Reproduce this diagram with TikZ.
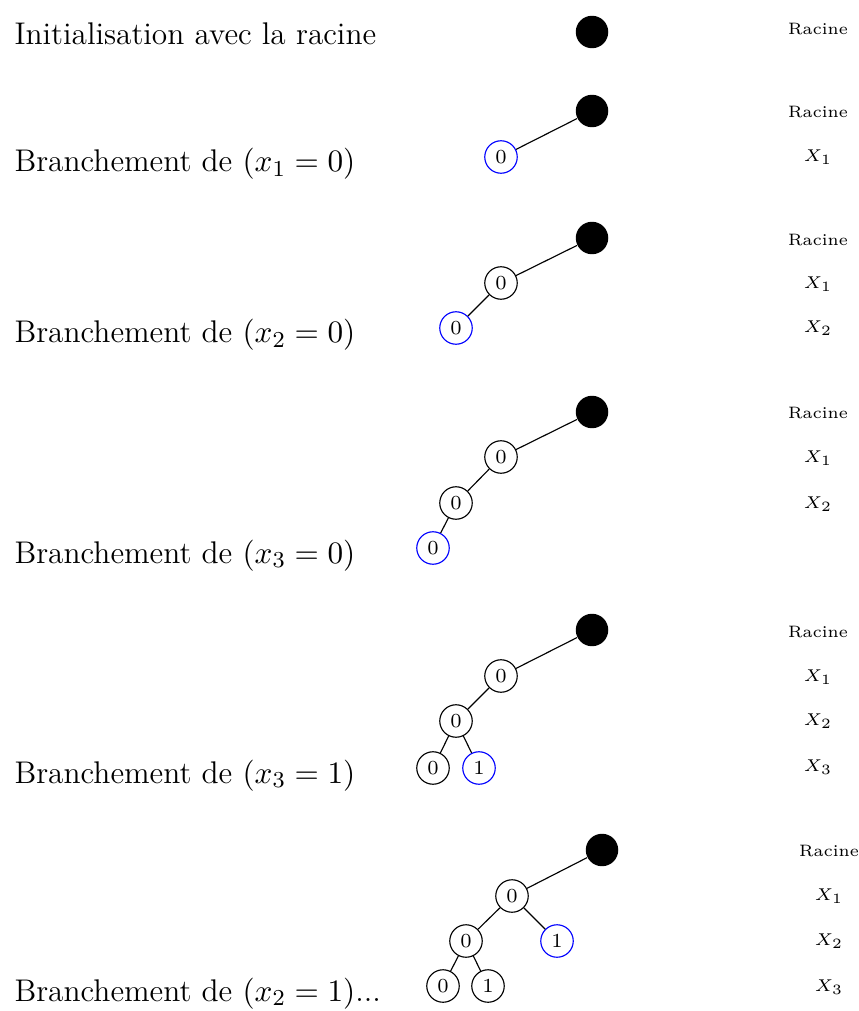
\documentclass[tikz,border=0pt]{standalone}
\usepackage{amsmath}
\usepackage{xcolor}
\tikzset{
  racine/.style={circle, fill=black, minimum size=11.4pt, inner sep=0pt},
  noeud/.style={circle, draw, minimum size=11.4pt, inner sep=0pt, font=\scriptsize},
  courant/.style={noeud, draw=blue},
  niveau/.style={font=\fontsize{5.8}{7}\selectfont},
  etape/.style={anchor=base west, inner sep=0pt, font=\fontsize{11}{13}\selectfont}
}

\begin{document}
\begin{tikzpicture}[x=0.351pt, y=-0.351pt]
\useasboundingbox (0,0) rectangle (858,1011);
% etape 1
\node[etape] (t1) at (14,45) {Initialisation avec la racine};
\node[racine] (r1) at (592,32) {};
\node[niveau] (l1r) at (818,29) {Racine};
% etape 2
\node[etape] (t2) at (14,172) {Branchement de $(x_1 = 0)$};
\node[racine] (r2) at (592,111) {};
\node[courant] (a2) at (501,157) {0};
\draw (r2) -- (a2);
\node[niveau] (l2r) at (818,112) {Racine};
\node[niveau] (l2a) at (818,157) {$X_1$};
% etape 3
\node[etape] (t3) at (14,343) {Branchement de $(x_2 = 0)$};
\node[racine] (r3) at (592,238) {};
\node[noeud] (a3) at (501,283) {0};
\node[courant] (b3) at (456,328) {0};
\draw (r3) -- (a3) (a3) -- (b3);
\node[niveau] (l3r) at (818,240) {Racine};
\node[niveau] (l3a) at (818,284) {$X_1$};
\node[niveau] (l3b) at (818,328) {$X_2$};
% etape 4
\node[etape] (t4) at (14,563) {Branchement de $(x_3 = 0)$};
\node[racine] (r4) at (592,412) {};
\node[noeud] (a4) at (501,457) {0};
\node[noeud] (b4) at (456,503) {0};
\node[courant] (c4) at (433,548) {0};
\draw (r4) -- (a4) (a4) -- (b4) (b4) -- (c4);
\node[niveau] (l4r) at (818,413) {Racine};
\node[niveau] (l4a) at (818,458) {$X_1$};
\node[niveau] (l4b) at (818,504) {$X_2$};
% etape 5
\node[etape] (t5) at (14,783) {Branchement de $(x_3 = 1)$};
\node[racine] (r5) at (592,630) {};
\node[noeud] (a5) at (501,676) {0};
\node[noeud] (b5) at (456,721) {0};
\node[noeud] (c5) at (433,768) {0};
\node[courant] (d5) at (479,768) {1};
\draw (r5) -- (a5) (a5) -- (b5) (b5) -- (c5) (b5) -- (d5);
\node[niveau] (l5r) at (818,632) {Racine};
\node[niveau] (l5a) at (818,677) {$X_1$};
\node[niveau] (l5b) at (818,721) {$X_2$};
\node[niveau] (l5c) at (818,767) {$X_3$};
% etape 6
\node[etape] (t6) at (14,1001) {Branchement de $(x_2 = 1)$...};
\node[racine] (r6) at (602,850) {};
\node[noeud] (a6) at (512,896) {0};
\node[noeud] (b6) at (466,941) {0};
\node[courant] (e6) at (557,941) {1};
\node[noeud] (c6) at (443,986) {0};
\node[noeud] (d6) at (488,986) {1};
\draw (r6) -- (a6) (a6) -- (b6) (a6) -- (e6) (b6) -- (c6) (b6) -- (d6);
\node[niveau] (l6r) at (829,851) {Racine};
\node[niveau] (l6a) at (829,896) {$X_1$};
\node[niveau] (l6b) at (829,941) {$X_2$};
\node[niveau] (l6c) at (829,987) {$X_3$};
\end{tikzpicture}
\end{document}
